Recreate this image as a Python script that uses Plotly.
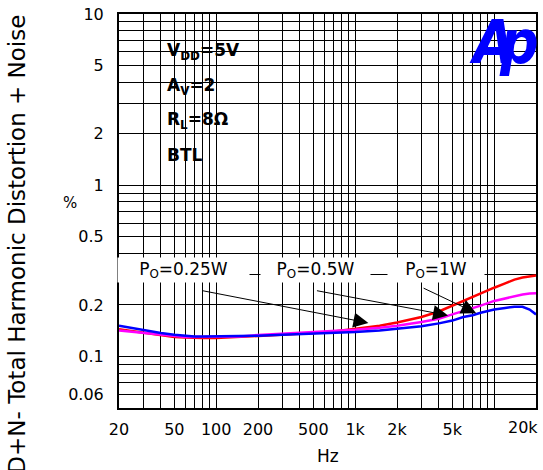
import numpy as np
import plotly.graph_objects as go

# ---------------- data ----------------
freq = [20, 30, 40, 50, 60, 70, 80, 100, 150, 200, 300, 500, 700, 1000, 1500, 2000,
        3000, 4000, 5000, 6000, 7000, 8000, 10000, 12000, 14000, 16000, 18000, 20000]
thd_025w = [0.144, 0.138, 0.133, 0.130, 0.129, 0.128, 0.128, 0.128, 0.130, 0.131, 0.134, 0.137,
            0.140, 0.145, 0.151, 0.158, 0.170, 0.183, 0.198, 0.212, 0.224, 0.234, 0.252, 0.267,
            0.281, 0.289, 0.294, 0.297]
thd_05w = [0.142, 0.137, 0.134, 0.131, 0.130, 0.130, 0.130, 0.130, 0.131, 0.1335, 0.136, 0.138,
           0.140, 0.143, 0.147, 0.151, 0.159, 0.166, 0.176, 0.184, 0.191, 0.198, 0.211, 0.219,
           0.226, 0.230, 0.233, 0.234]
thd_1w = [0.151, 0.142, 0.137, 0.134, 0.132, 0.131, 0.131, 0.131, 0.131, 0.132, 0.134, 0.136,
          0.137, 0.139, 0.142, 0.145, 0.150, 0.156, 0.162, 0.170, 0.174, 0.180, 0.188, 0.192,
          0.195, 0.195, 0.188, 0.176]
series_names = ["P<sub>O</sub>=0.25W", "P<sub>O</sub>=0.5W", "P<sub>O</sub>=1W"]
series_colors = ["#ff0000", "#ff00ff", "#0000ff"]

x_grid = [20, 30, 40, 50, 60, 70, 80, 90, 100, 200, 300, 400, 500, 600, 700, 800, 900,
          1000, 2000, 3000, 4000, 5000, 6000, 7000, 8000, 9000, 10000, 20000]
x_labels = {20: "20", 50: "50", 100: "100", 200: "200", 500: "500", 1000: "1k",
            2000: "2k", 5000: "5k"}
y_grid = [0.05, 0.06, 0.07, 0.08, 0.09, 0.1, 0.2, 0.3, 0.4, 0.5, 0.6, 0.7, 0.8, 0.9,
          1, 2, 3, 4, 5, 6, 7, 8, 9, 10]
y_labels = {0.06: "0.06", 0.1: "0.1", 0.2: "0.2", 0.5: "0.5", 1: "1", 2: "2", 5: "5", 10: "10"}

# arrow (tip, tail) points in data units, and label centres
arrow_tips = [(1245, 0.157), (4660, 0.1737), (7430, 0.179)]
arrow_tails = [(78, 0.243), (518, 0.243), (3030, 0.253)]
label_pos = [(58.4, 0.3185), (515, 0.3185), (3820, 0.3185)]
label_widths = [129, 107, 94]

info_lines = ["V<sub>DD</sub>=5V", "A<sub>V</sub>=2", "R<sub>L</sub>=8Ω", "BTL"]

FONT = "DejaVu Sans"
LOGO_FONT = "DejaVu Sans Condensed, Liberation Sans Narrow, DejaVu Sans"

fig = go.Figure()
for vals, name, col in zip([thd_025w, thd_05w, thd_1w], series_names, series_colors):
    fig.add_trace(go.Scatter(x=freq, y=vals, mode="lines", name=name,
                             line=dict(color=col, width=2.5), showlegend=False))

L, R, T, B = 119, 5, 14, 62
W, H = 543, 470
pw, ph = W - L - R, H - T - B


def px2paper(xp, yp):
    return (xp - L) / pw, (H - B - yp) / ph


annotations = []
# info box text
for i, t in enumerate(info_lines):
    xx, yy = px2paper(165, 51.7 + i * 34.5)
    annotations.append(dict(text=t, xref="paper", yref="paper", x=xx, y=yy,
                            xanchor="left", yanchor="middle", showarrow=False,
                            font=dict(family=FONT, size=17, color="black", weight="bold")))

# series labels
for (fx, fy), name, wdt in zip(label_pos, series_names, label_widths):
    annotations.append(dict(text=name, x=np.log10(fx), y=np.log10(fy), xref="x", yref="y",
                            xanchor="center", yanchor="middle",
                            showarrow=False, bgcolor="white", width=wdt, height=22,
                            font=dict(family=FONT, size=17, color="black")))

# arrows
for (tx, ty), (sx, sy) in zip(arrow_tips, arrow_tails):
    annotations.append(dict(text="", x=np.log10(tx), y=np.log10(ty), xref="x", yref="y",
                            ax=np.log10(sx), ay=np.log10(sy), axref="x", ayref="y",
                            showarrow=True, arrowhead=2, arrowsize=3, arrowwidth=1,
                            arrowcolor="black"))

# Ap logo
for ch, xpx in (("A", 469), ("p", 499)):
    xa, ya = px2paper(xpx, 42)
    annotations.append(dict(text=ch, xref="paper", yref="paper", x=xa, y=ya, xanchor="left",
                            yanchor="middle", showarrow=False,
                            font=dict(family=LOGO_FONT, size=60, color="#0000ff",
                                      weight="bold", style="italic")))

# axis title (rotated, clipped at bottom like the reference)
xt, yt = px2paper(16, 13)
annotations.append(dict(text="THD+N- Total Harmonic Distortion + Noise", xref="paper",
                        yref="paper", x=xt, y=yt, xanchor="center", yanchor="top",
                        textangle=-90, showarrow=False,
                        font=dict(family=FONT, size=23, color="black")))
xpct, ypct = px2paper(70, 203)
annotations.append(dict(text="%", xref="paper", yref="paper", x=xpct, y=ypct,
                        xanchor="center", yanchor="middle",
                        showarrow=False, font=dict(family=FONT, size=15, color="black")))
xhz, yhz = px2paper(329, 456)
annotations.append(dict(text="Hz", xref="paper", yref="paper", x=xhz, y=yhz,
                        xanchor="center", yanchor="middle",
                        showarrow=False, font=dict(family=FONT, size=17, color="black")))
# last x tick label, kept inside the page like the reference
x20k, y20k = px2paper(542, 427.5)
annotations.append(dict(text="20k", xref="paper", yref="paper", x=x20k, y=y20k,
                        xanchor="right", yanchor="middle", showarrow=False,
                        font=dict(family=FONT, size=16, color="black")))

# white box behind the condition text
bx0, by0 = px2paper(145.4, 178.3)
bx1, by1 = px2paper(282.5, 30.7)
shapes = [dict(type="rect", xref="paper", yref="paper", x0=bx0, x1=bx1, y0=by0, y1=by1,
               fillcolor="white", line=dict(width=0), layer="between")]

fig.update_layout(
    width=W, height=H,
    margin=dict(l=L, r=R, t=T, b=B, pad=0),
    paper_bgcolor="white", plot_bgcolor="white",
    font=dict(family=FONT, size=16, color="black"),
    annotations=annotations, shapes=shapes,
    xaxis=dict(type="log", range=[np.log10(20), np.log10(20000)],
               tickvals=x_grid, ticktext=[x_labels.get(v, "") for v in x_grid],
               showgrid=True, gridcolor="black", gridwidth=1, ticks="",
               showline=True, linecolor="black", linewidth=2, mirror=True,
               zeroline=False, ticklabelstandoff=6,
               tickfont=dict(family=FONT, size=16, color="black")),
    yaxis=dict(type="log", range=[np.log10(0.05), 1],
               tickvals=y_grid, ticktext=[y_labels.get(v, "") for v in y_grid],
               showgrid=True, gridcolor="black", gridwidth=1, ticks="",
               showline=True, linecolor="black", linewidth=2, mirror=True,
               zeroline=False, ticklabelstandoff=10,
               tickfont=dict(family=FONT, size=16, color="black")),
)

fig.write_html("out.html", config={"displayModeBar": False},
               post_script="document.body.style.margin='0px';")
